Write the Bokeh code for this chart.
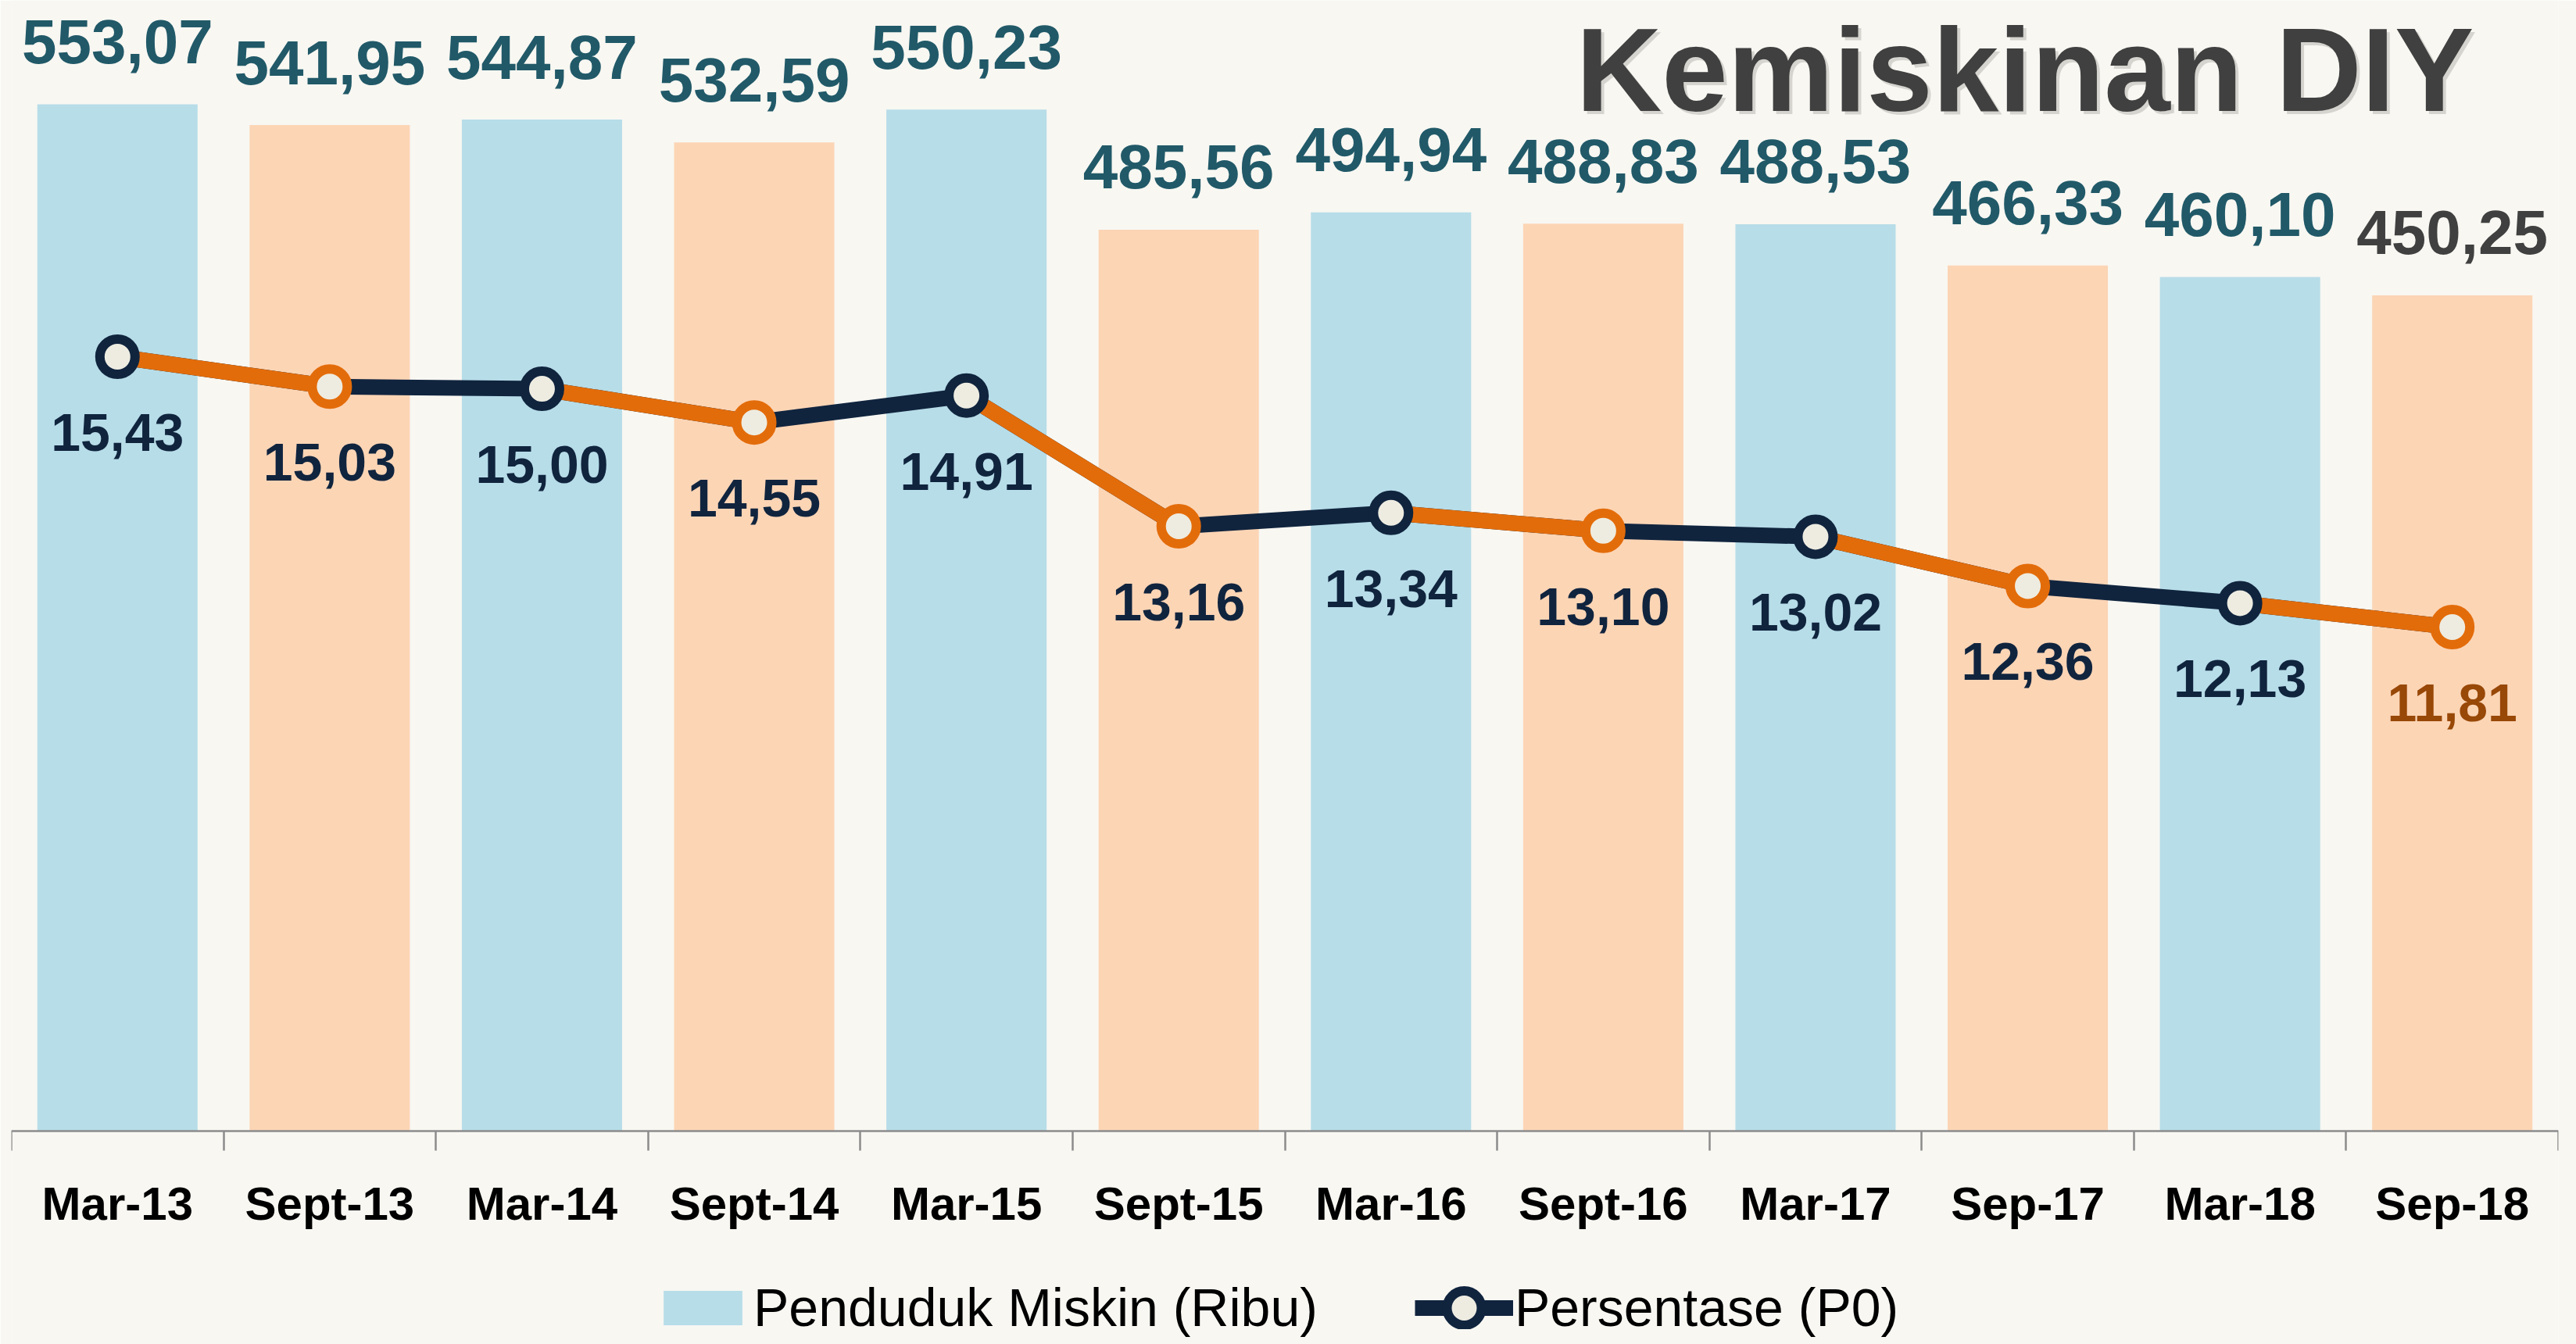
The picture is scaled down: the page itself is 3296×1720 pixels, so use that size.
from bokeh.plotting import figure
from bokeh.models import Range1d, FixedTicker, Legend, LegendItem, Label, ColumnDataSource
from bokeh.core.properties import value
from bokeh.embed import file_html
from bokeh.resources import INLINE

# ---- data ----
periods = ["Mar-13", "Sept-13", "Mar-14", "Sept-14", "Mar-15", "Sept-15",
           "Mar-16", "Sept-16", "Mar-17", "Sep-17", "Mar-18", "Sep-18"]
penduduk = [553.07, 541.95, 544.87, 532.59, 550.23, 485.56,
            494.94, 488.83, 488.53, 466.33, 460.10, 450.25]
persentase = [15.43, 15.03, 15.00, 14.55, 14.91, 13.16,
              13.34, 13.10, 13.02, 12.36, 12.13, 11.81]
series_names = ["Penduduk Miskin (Ribu)", "Persentase (P0)"]
title_text = "Kemiskinan DIY"

# ---- styles ----
BG = "#F8F7F2"
BLUE = "#B7DDE8"
PEACH = "#FCD5B5"
ORANGE = "#E36C0A"
NAVY = "#10243E"
CREAM = "#EEECE1"
TEAL = "#215968"
GRAY = "#404040"
BROWN = "#984807"
AXIS = "#8C8C8C"
FONT = "Liberation Sans"

n = len(periods)
xs = list(range(n))
is_mar = [c.startswith("Mar") for c in periods]

src = ColumnDataSource(dict(
    x=xs,
    pend=penduduk,
    pct=persentase,
    bar_color=[BLUE if m else PEACH for m in is_mar],
    mline=[NAVY if m else ORANGE for m in is_mar],
    btxt=[f"{v:.2f}".replace(".", ",") for v in penduduk],
    ptxt=[f"{v:.2f}".replace(".", ",") for v in persentase],
    bcol=[TEAL] * (n - 1) + [GRAY],
    pcol=[NAVY] * (n - 1) + [BROWN],
))

seg_idx = [i for i in range(n - 1) if is_mar[i]]
seg_src = ColumnDataSource(dict(
    x0=[xs[i] for i in seg_idx], y0=[persentase[i] for i in seg_idx],
    x1=[xs[i + 1] for i in seg_idx], y1=[persentase[i + 1] for i in seg_idx],
))

p = figure(width=3296, height=1720,
           x_range=Range1d(-0.5, n - 0.5), y_range=Range1d(-114.9, 609.1),
           output_backend="svg", toolbar_location=None, y_axis_location=None,
           min_border_left=14, min_border_right=23, min_border_top=0, min_border_bottom=0,
           background_fill_color=BG, border_fill_color=BG, outline_line_color=None)
p.extra_y_ranges = {"pct": Range1d(2.208, 20.20)}
p.xgrid.visible = False
p.ygrid.visible = False

bars = p.vbar(x="x", top="pend", bottom=0, width=0.755, fill_color="bar_color",
              line_color=None, source=src)
p.text(x="x", y="pend", text="btxt", text_color="bcol", text_font=value(FONT),
       text_font_style="bold", text_font_size="80px", text_align="center",
       text_baseline="alphabetic", y_offset=-80, source=src)

navy_line = p.line("x", "pct", line_color=NAVY, line_width=20,
                   y_range_name="pct", source=src)
p.segment(x0="x0", y0="y0", x1="x1", y1="y1", line_color=ORANGE, line_width=20,
          y_range_name="pct", source=seg_src)
dots = p.ellipse(x="x", y="pct", width=45, height=45, width_units="screen",
                 height_units="screen", fill_color=CREAM, line_color="mline",
                 line_width=12, y_range_name="pct", source=src)
p.text(x="x", y="pct", text="ptxt", text_color="pcol", text_font=value(FONT),
       text_font_style="bold", text_font_size="68px", text_align="center",
       text_baseline="alphabetic", y_offset=97, y_range_name="pct", source=src)

ax = p.xaxis[0]
ax.fixed_location = 0
ax.ticker = FixedTicker(ticks=xs, minor_ticks=[i - 0.5 for i in range(n + 1)])
ax.major_label_overrides = {i: periods[i] for i in xs}
ax.axis_line_color = AXIS
ax.axis_line_width = 2.5
ax.major_tick_out = 0
ax.major_tick_in = 0
ax.minor_tick_out = 25
ax.minor_tick_in = 0
ax.minor_tick_line_color = AXIS
ax.minor_tick_line_width = 2.5
ax.major_label_text_font = FONT
ax.major_label_text_font_style = "bold"
ax.major_label_text_font_size = "60px"
ax.major_label_text_color = "#000000"
ax.major_label_standoff = 34

legend = Legend(items=[
    LegendItem(label=series_names[0], renderers=[bars], index=0),
    LegendItem(label=series_names[1], renderers=[navy_line, dots], index=0),
], location=(822, 8), orientation="horizontal", glyph_width=126, glyph_height=55,
    label_standoff=2, spacing=124, padding=0, margin=0, border_line_color=None,
    background_fill_alpha=0, label_text_font=FONT, label_text_font_size="68px",
    label_text_color="#000000", label_height=76)
p.add_layout(legend, "center")

shadow = Label(x=2006, y=1628, x_units="screen", y_units="screen", text=title_text,
               text_font=FONT, text_font_style="bold", text_font_size="152px",
               text_color="#000000", text_alpha=0.14, text_baseline="alphabetic")
title = Label(x=2002, y=1632, x_units="screen", y_units="screen", text=title_text,
              text_font=FONT, text_font_style="bold", text_font_size="152px",
              text_color=GRAY, text_baseline="alphabetic")
p.add_layout(shadow)
p.add_layout(title)

html = file_html(p, INLINE)
html = html.replace("<body>", '<body style="background-color:#F8F7F2;">', 1)
open("out.html", "w").write(html)
